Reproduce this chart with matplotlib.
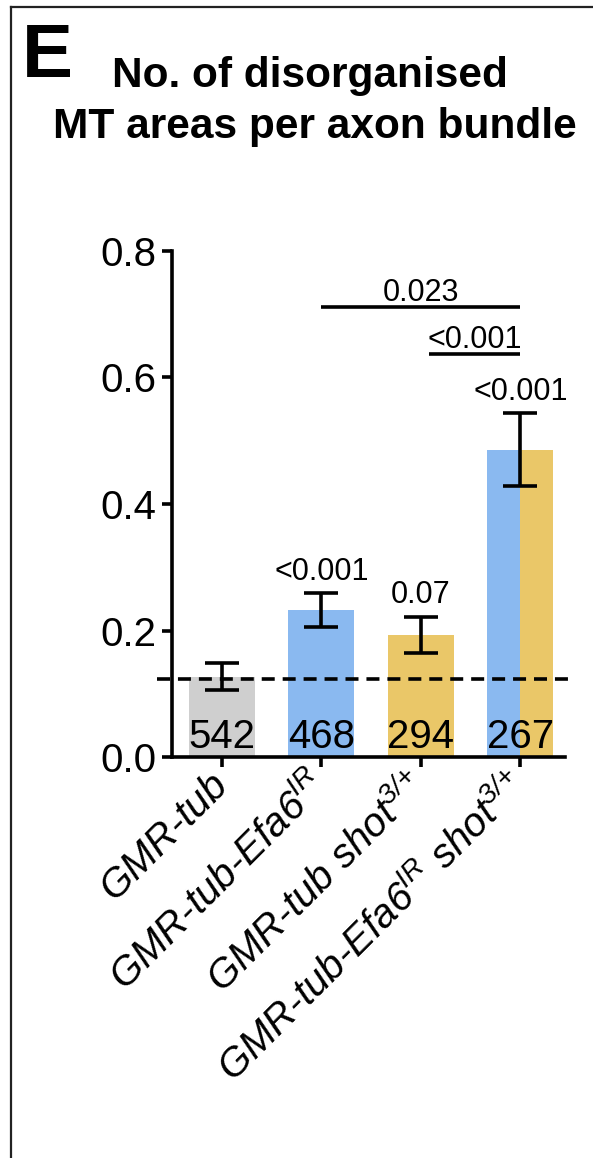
import matplotlib
matplotlib.use("Agg")
import matplotlib.pyplot as plt
from matplotlib.lines import Line2D

plt.rcParams['font.family'] = ['Liberation Sans', 'DejaVu Sans']
plt.rcParams['mathtext.fontset'] = 'custom'
plt.rcParams['mathtext.it'] = 'Liberation Sans:italic'
plt.rcParams['mathtext.rm'] = 'Liberation Sans:italic'
plt.rcParams['mathtext.default'] = 'it'

# ---- data ----
categories = ["GMR-tub",
              "GMR-tub-Efa6$^{IR}$",
              "GMR-tub shot$^{3/{+}}$",
              "GMR-tub-Efa6$^{IR}$ shot$^{3/{+}}$"]
means = [0.127, 0.233, 0.193, 0.486]
errors = [0.021, 0.027, 0.028, 0.058]
n_labels = ["542", "468", "294", "267"]
pvals_above = ["", "<0.001", "0.07", "<0.001"]
baseline_value = 0.123
comparisons = [(1, 3, 0.711, "0.023"), (2, 3, 0.637, "<0.001")]
yticks = [0.0, 0.2, 0.4, 0.6, 0.8]

GRAY = "#cfcfcf"
BLUE = "#8ab9f0"
YELLOW = "#eac768"
LW = 2.6

W, H = 593, 1158
fig = plt.figure(figsize=(W / 100, H / 100), dpi=100)

ax_left, ax_right = 172, 565
ax_bottom, ax_top = 757, 251
ax = fig.add_axes([ax_left / W, 1 - ax_bottom / H,
                   (ax_right - ax_left) / W, (ax_bottom - ax_top) / H])

x = list(range(len(categories)))
bw = 0.665
ax.bar(x[0], means[0], width=bw, color=GRAY, zorder=1)
ax.bar(x[1], means[1], width=bw, color=BLUE, zorder=1)
ax.bar(x[2], means[2], width=bw, color=YELLOW, zorder=1)
ax.bar(x[3] - bw / 4, means[3], width=bw / 2, color=BLUE, zorder=1)
ax.bar(x[3] + bw / 4, means[3], width=bw / 2, color=YELLOW, zorder=1)

ax.errorbar(x, means, yerr=errors, fmt='none', ecolor='black',
            elinewidth=LW, capsize=12, capthick=LW, zorder=3)

ax.set_xlim(-0.503, 3.45)
ax.set_ylim(0, 0.8)

# dashed reference line
ax.plot([-0.655, 3.5], [baseline_value, baseline_value], color='black',
        lw=LW, ls=(0, (3.6, 2.2)), clip_on=False, zorder=4)

# n labels
for xi, n in zip(x, n_labels):
    ax.text(xi, 0.014, n, ha='center', va='baseline', fontsize=29, zorder=5)

# p-values above bars
pv_y = [0, 0.280, 0.243, 0.564]
for xi, p, yy in zip(x, pvals_above, pv_y):
    if p:
        ax.text(xi, yy, p, ha='center', va='baseline', fontsize=22)

# comparison lines
for i, j, yy, lab in comparisons:
    x0 = x[i] + (0.08 if i == 2 else 0.0)
    ax.plot([x0, x[j]], [yy, yy], color='black', lw=LW, solid_capstyle='butt')
    ax.text((x0 + x[j]) / 2, yy + 0.01, lab, ha='center', va='baseline',
            fontsize=22)

# axes styling
for s in ['top', 'right']:
    ax.spines[s].set_visible(False)
for s in ['left', 'bottom']:
    ax.spines[s].set_linewidth(LW)
ax.set_yticks(yticks)
ax.set_yticklabels([f"{v:.1f}" for v in yticks])
ax.tick_params(axis='y', labelsize=29, width=LW, length=7, pad=4)
ax.tick_params(axis='x', width=LW, length=7, pad=9)
ax.set_xticks(x)
ax.set_xticklabels(categories, rotation=45, ha='right', va='center',
                   rotation_mode='anchor', fontsize=29, fontstyle='italic')

# titles
fig.text(22 / W, 1 - 77 / H, "E", fontsize=55, fontweight='bold',
         ha='left', va='baseline')
fig.text(310 / W, 1 - 87 / H, "No. of disorganised", fontsize=30.5,
         fontweight='bold', ha='center', va='baseline')
fig.text(315 / W, 1 - 138 / H, "MT areas per axon bundle", fontsize=30.5,
         fontweight='bold', ha='center', va='baseline')

# border lines
bx = 11 / W
by = 1 - 7 / H
fig.add_artist(Line2D([bx, bx], [0, by], transform=fig.transFigure,
                      color='#222222', lw=1.6))
fig.add_artist(Line2D([bx, 1], [by, by], transform=fig.transFigure,
                      color='#222222', lw=1.6))

fig.savefig("out.png", dpi=100)
